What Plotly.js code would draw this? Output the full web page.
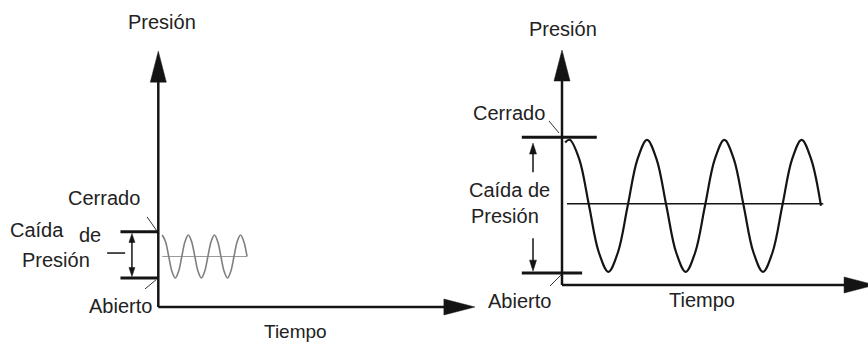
<!DOCTYPE html>
<html>
<head>
<meta charset="utf-8">
<script src="https://cdn.plot.ly/plotly-3.0.1.min.js"></script>
<style>
  html, body { margin: 0; padding: 0; background: #fff; }
  #chart { width: 868px; height: 345px; }
</style>
</head>
<body>
<div id="chart"></div>
<script>
const W = 868;
const H = 345;
const INK = "#141414";
const TEXT_INK = "#222222";
const FONT = "Liberation Sans, Arial, sans-serif";

// Left sketch: valve cycling over a small pressure band
const LEFT_TIME = [
  0.15, 0.275, 0.4, 0.525, 0.65, 0.775, 0.9, 1.025, 1.15, 1.275, 1.4, 1.525, 1.65, 1.775,
  1.9, 2.025, 2.15, 2.275, 2.4, 2.525, 2.65, 2.775, 2.9, 3.025, 3.15, 3.275, 3.4,
];
const LEFT_PRESSURE = [
  3.35, 3.05, 2.35, 1.65, 1.35, 1.65, 2.35, 3.05, 3.35, 3.05, 2.35, 1.65, 1.35, 1.65,
  2.35, 3.05, 3.35, 3.05, 2.35, 1.65, 1.35, 1.65, 2.35, 3.05, 3.35, 3.05, 2.35,
];
const LEFT_MEAN = 2.35;
const LEFT_MEAN_SPAN = [0.15, 3.4];
const LEFT_CLOSED = 3.5;
const LEFT_OPEN = 1.35;
const LEFT_LEVEL_SPAN = [-1.45, 0];
const LEFT_AXIS_END = [12.13, 11.9];

// Right sketch: same valve with a wide pressure drop
const RIGHT_TIME = [
  0.04, 0.1, 0.225, 0.35, 0.475, 0.6, 0.725, 0.85, 0.975, 1.1, 1.225, 1.35, 1.475, 1.6, 1.725,
  1.85, 1.975, 2.1, 2.225, 2.35, 2.475, 2.6, 2.725, 2.85, 2.975, 3.1, 3.225, 3.35,
];
const RIGHT_PRESSURE = [
  2.16, 2.2, 1.9, 1.2, 0.5, 0.2, 0.5, 1.2, 1.9, 2.2, 1.9, 1.2, 0.5, 0.2, 0.5,
  1.2, 1.9, 2.2, 1.9, 1.2, 0.5, 0.2, 0.5, 1.2, 1.9, 2.2, 1.9, 1.2,
];
const RIGHT_MEAN = 1.23;
const RIGHT_MEAN_SPAN = [0.065, 3.38];
const RIGHT_CLOSED = 2.24;
const RIGHT_OPEN = 0.18;
const RIGHT_CLOSED_SPAN = [-0.52, 0.45];
const RIGHT_OPEN_SPAN = [-0.52, 0.26];
const RIGHT_AXIS_END = [4.05, 3.56];

const LABELS_LEFT = ["Presión", "Cerrado", "Caída", "de", "Presión", "Abierto", "Tiempo"];
const LABELS_RIGHT = ["Presión", "Cerrado", "Caída de", "Presión", "Abierto", "Tiempo"];

// pixel frame of each sketch (origin = where the two axes meet)
const PANELS = {
  left: { xaxis: "x", yaxis: "y", domainPx: [0, 486], originPx: [158.3, 307], pxPerTime: 26.1, pxPerPressure: 21.5 },
  right: { xaxis: "x2", yaxis: "y2", domainPx: [486, 868], originPx: [562, 285], pxPerTime: 77.3, pxPerPressure: 66 },
};

function toPx(panel, t, p) {
  const g = PANELS[panel];
  return [g.originPx[0] + t * g.pxPerTime, g.originPx[1] - p * g.pxPerPressure];
}

function fromPx(panel, x, y) {
  const g = PANELS[panel];
  return [(x - g.originPx[0]) / g.pxPerTime, (g.originPx[1] - y) / g.pxPerPressure];
}

function segment(panel, ts, ps, color, width) {
  const g = PANELS[panel];
  return {
    type: "scatter",
    mode: "lines",
    x: ts,
    y: ps,
    xaxis: g.xaxis,
    yaxis: g.yaxis,
    line: { color, width },
    hoverinfo: "skip",
  };
}

function wave(panel, ts, ps, color, width) {
  const trace = segment(panel, ts, ps, color, width);
  trace.line.shape = "spline";
  trace.line.smoothing = 1;
  return trace;
}

function arrow(panel, from, tip, opts) {
  const g = PANELS[panel];
  const a = toPx(panel, from[0], from[1]);
  const b = toPx(panel, tip[0], tip[1]);
  const dx = b[0] - a[0];
  const dy = b[1] - a[1];
  const d = Math.hypot(dx, dy);
  const ux = dx / d;
  const uy = dy / d;
  const base = [b[0] - ux * opts.len, b[1] - uy * opts.len];
  const half = opts.width / 2;
  const corners = [
    b,
    [base[0] - uy * half, base[1] + ux * half],
    [base[0] + uy * half, base[1] - ux * half],
    b,
  ].map((c) => fromPx(panel, c[0], c[1]));
  const shaftEnd = fromPx(panel, base[0] + ux * 2, base[1] + uy * 2);
  return [
    segment(panel, [from[0], shaftEnd[0]], [from[1], shaftEnd[1]], opts.color, opts.lineWidth),
    {
      type: "scatter",
      mode: "lines",
      x: corners.map((c) => c[0]),
      y: corners.map((c) => c[1]),
      xaxis: g.xaxis,
      yaxis: g.yaxis,
      fill: "toself",
      fillcolor: opts.color,
      line: { color: opts.color, width: 0.5 },
      hoverinfo: "skip",
    },
  ];
}

function axisRanges(panel) {
  const g = PANELS[panel];
  return {
    x: [(g.domainPx[0] - g.originPx[0]) / g.pxPerTime, (g.domainPx[1] - g.originPx[0]) / g.pxPerTime],
    y: [(g.originPx[1] - H) / g.pxPerPressure, g.originPx[1] / g.pxPerPressure],
  };
}

function label(text, cx, cy, size) {
  return {
    text,
    xref: "paper",
    yref: "paper",
    x: cx / W,
    y: 1 - cy / H,
    xanchor: "center",
    yanchor: "middle",
    showarrow: false,
    font: { family: FONT, size: size || 20, color: TEXT_INK },
  };
}

const axisHead = { len: 31, width: 16, lineWidth: 2.5, color: INK };

const traces = [
  // left sketch
  ...arrow("left", [0, 0], [0, LEFT_AXIS_END[1]], axisHead),
  ...arrow("left", [0, 0], [LEFT_AXIS_END[0], 0], axisHead),
  segment("left", LEFT_MEAN_SPAN, [LEFT_MEAN, LEFT_MEAN], "#9a9a9a", 1.2),
  wave("left", LEFT_TIME, LEFT_PRESSURE, "#7f7f7f", 1.6),
  segment("left", LEFT_LEVEL_SPAN, [LEFT_CLOSED, LEFT_CLOSED], INK, 3),
  segment("left", LEFT_LEVEL_SPAN, [LEFT_OPEN, LEFT_OPEN], INK, 3),
  ...arrow("left", [-1.01, 2.42], [-1.01, 3.42], { len: 9, width: 6, lineWidth: 1.5, color: INK }),
  ...arrow("left", [-1.01, 2.42], [-1.01, 1.42], { len: 9, width: 6, lineWidth: 1.5, color: INK }),
  segment("left", [-1.96, -1.27], [2.51, 2.51], INK, 1.5),
  segment("left", [-0.43, -0.05], [4.19, 3.53], "#333", 1),
  segment("left", [-0.09, -0.51], [1.26, 0.84], "#333", 1),

  // right sketch
  ...arrow("right", [0, 0], [0, RIGHT_AXIS_END[1]], axisHead),
  ...arrow("right", [0, 0], [RIGHT_AXIS_END[0], 0], axisHead),
  segment("right", RIGHT_MEAN_SPAN, [RIGHT_MEAN, RIGHT_MEAN], INK, 1.5),
  wave("right", RIGHT_TIME, RIGHT_PRESSURE, INK, 2.2),
  segment("right", RIGHT_CLOSED_SPAN, [RIGHT_CLOSED, RIGHT_CLOSED], INK, 3),
  segment("right", RIGHT_OPEN_SPAN, [RIGHT_OPEN, RIGHT_OPEN], INK, 3),
  ...arrow("right", [-0.375, 1.71], [-0.375, 2.15], { len: 11, width: 7, lineWidth: 1.5, color: INK }),
  ...arrow("right", [-0.375, 0.71], [-0.375, 0.21], { len: 11, width: 7, lineWidth: 1.5, color: INK }),
  segment("right", [-0.168, -0.039], [2.485, 2.303], "#333", 1),
  segment("right", [-0.155, -0.013], [-0.015, 0.152], "#333", 1),
];

const leftRange = axisRanges("left");
const rightRange = axisRanges("right");
const hidden = { visible: false, fixedrange: true, showgrid: false, zeroline: false };

const layout = {
  width: W,
  height: H,
  margin: { l: 0, r: 0, t: 0, b: 0 },
  paper_bgcolor: "#ffffff",
  plot_bgcolor: "rgba(0,0,0,0)",
  showlegend: false,
  xaxis: { ...hidden, domain: [0, 486 / W], range: leftRange.x, anchor: "y" },
  yaxis: { ...hidden, domain: [0, 1], range: leftRange.y, anchor: "x" },
  xaxis2: { ...hidden, domain: [486 / W, 1], range: rightRange.x, anchor: "y2" },
  yaxis2: { ...hidden, domain: [0, 1], range: rightRange.y, anchor: "x2" },
  annotations: [
    label(LABELS_LEFT[0], 162, 22.5),
    label(LABELS_LEFT[1], 104, 197.5),
    label(LABELS_LEFT[2], 36.5, 230),
    label(LABELS_LEFT[3], 90, 235),
    label(LABELS_LEFT[4], 55.5, 260),
    label(LABELS_LEFT[5], 120.5, 306),
    label(LABELS_LEFT[6], 295, 331.5, 19),
    label(LABELS_RIGHT[0], 563, 29),
    label(LABELS_RIGHT[1], 509, 113.5),
    label(LABELS_RIGHT[2], 509, 190),
    label(LABELS_RIGHT[3], 504.5, 215.5),
    label(LABELS_RIGHT[4], 519.5, 301),
    label(LABELS_RIGHT[5], 702, 300),
  ],
};

Plotly.newPlot("chart", traces, layout, { staticPlot: true, displayModeBar: false });
</script>
</body>
</html>
